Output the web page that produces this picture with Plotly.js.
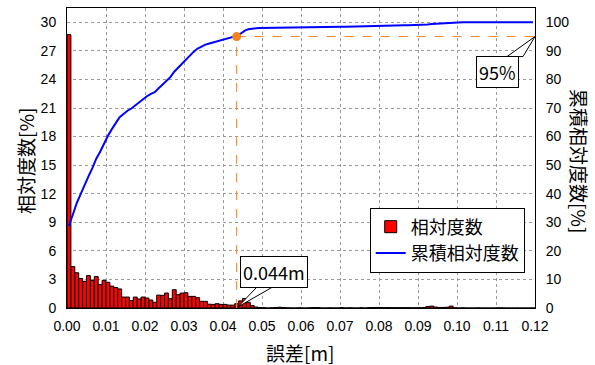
<!DOCTYPE html>
<html>
<head>
<meta charset="utf-8">
<script src="https://cdn.plot.ly/plotly-3.0.1.min.js"></script>
<style>html,body{margin:0;padding:0;background:#fff;}#chart{width:595px;height:365px;}</style>
</head>
<body>
<div id="chart"></div>
<script>
// ---- data ----
const binWidth = 0.001; // [m]
const relFreq = [
  28.7, 4.35, 3.7, 3.1, 2.8, 3.4, 2.9, 3.3, 2.45, 2.9,
  2.7, 2.3, 2.15, 2.0, 1.15, 1.15, 0.77, 1.15, 0.95, 1.15,
  1.05, 0.84, 0.6, 1.35, 1.33, 1.57, 0.98, 1.92, 1.4, 1.57,
  1.6, 1.22, 1.22, 1.08, 0.7, 0.7, 0.4, 0.38, 0.45, 0.38,
  0.38, 0.31, 0.3, 0.45, 0.75, 1.0, 0.6, 0.25, 0.1, 0.05,
  0.03, 0, 0.02, 0.05, 0.08, 0.04, 0.02, 0, 0, 0.02,
  0, 0, 0.03, 0.05, 0.04, 0, 0, 0.02, 0, 0,
  0.05, 0, 0.02, 0, 0, 0.03, 0, 0.04, 0.05, 0.06,
  0.05, 0.04, 0.05, 0.03, 0.04, 0.03, 0.04, 0.03, 0.02, 0.02,
  0.03, 0.05, 0.15, 0.2, 0.1, 0.06, 0.06, 0.08, 0.2, 0.02,
  0, 0.02, 0, 0, 0, 0.01, 0, 0, 0, 0,
  0.01, 0.01, 0, 0, 0, 0, 0, 0, 0, 0
];
const markX = 0.0435;      // error at 95 %
const markY = 95;          // cumulative %
const markXLabel = '0.044m';
const markYLabel = '95%';
const xTickVals = [0,0.01,0.02,0.03,0.04,0.05,0.06,0.07,0.08,0.09,0.10,0.11,0.12];
const xTickText = ['0.00','0.01','0.02','0.03','0.04','0.05','0.06','0.07','0.08','0.09','0.10','0.11','0.12'];
const leftTicks = [0,3,6,9,12,15,18,21,24,27,30];
const rightTicks = [0,10,20,30,40,50,60,70,80,90,100];
const seriesNames = ['相対度数','累積相対度数'];
const xTitle = '誤差[m]';
const yTitle = '相対度数[%]';
const y2Title = '累積相対度数[%]';

// ---- derived ----
const binCenters = relFreq.map((_, i) => (i + 0.5) * binWidth);
let acc = 0;
const cumFreq = relFreq.map(v => (acc += v, acc));

const FONT = '"Noto Sans CJK JP", "Liberation Sans", sans-serif';
const TICKFONT = '"Liberation Sans", Arial, sans-serif';
const orange = '#f5821f';

const traces = [
  {
    type: 'bar', name: seriesNames[0], x: binCenters, y: relFreq,
    width: binWidth,
    marker: {color: '#ff0000', line: {color: '#000000', width: 1}},
    yaxis: 'y', hoverinfo: 'skip'
  },
  {
    type: 'scatter', mode: 'lines', name: seriesNames[1], x: binCenters, y: cumFreq,
    line: {color: '#0000ff', width: 2}, yaxis: 'y2', hoverinfo: 'skip'
  },
  {
    type: 'scatter', mode: 'markers', x: [markX], y: [markY], yaxis: 'y2',
    marker: {color: orange, size: 9}, showlegend: false, hoverinfo: 'skip'
  }
];

const gridStyle = {gridcolor: '#9a9a9a', griddash: 'dot', gridwidth: 1};

const layout = {
  width: 595, height: 365,
  margin: {l: 67, r: 60, t: 8, b: 57, pad: 0},
  paper_bgcolor: '#ffffff', plot_bgcolor: '#ffffff',
  font: {family: FONT, size: 14, color: '#000'},
  bargap: 0,
  showlegend: true,
  legend: {
    x: 0.978, xanchor: 'right', y: 0.335, yanchor: 'top',
    bgcolor: '#ffffff', bordercolor: '#000000', borderwidth: 1,
    font: {family: FONT, size: 18, color: '#000'},
    tracegroupgap: 0
  },
  xaxis: Object.assign({
    range: [0, 0.12], tickvals: xTickVals, ticktext: xTickText,
    showline: true, linecolor: '#000', linewidth: 1, mirror: true,
    ticks: '', zeroline: false, tickfont: {family: TICKFONT, size: 14},
    ticklabelstandoff: 5
  }, gridStyle),
  yaxis: Object.assign({
    range: [0, 31.5], tickvals: leftTicks,
    showline: true, linecolor: '#000', linewidth: 1, mirror: true,
    ticks: '', zeroline: false, tickfont: {family: TICKFONT, size: 14}, ticklabelstandoff: 7
  }, gridStyle),
  yaxis2: {
    range: [0, 105], tickvals: rightTicks, overlaying: 'y', side: 'right',
    showgrid: false, showline: true, linecolor: '#000', linewidth: 1,
    ticks: '', zeroline: false, tickfont: {family: TICKFONT, size: 14}, ticklabelstandoff: 7
  },
  shapes: [
    {type: 'line', xref: 'x', yref: 'y2', x0: markX, x1: markX, y0: 0, y1: markY,
     line: {color: orange, width: 1, dash: 'dash'}, layer: 'above'},
    {type: 'line', xref: 'x', yref: 'y2', x0: markX, x1: 0.12, y0: markY, y1: markY,
     line: {color: orange, width: 1, dash: 'dash'}, layer: 'above'},
    // callout tails (pixel offsets from the marked points)
    {type: 'path', xref: 'x', yref: 'y', xsizemode: 'pixel', ysizemode: 'pixel',
     xanchor: markX + 0.0003, yanchor: 0, path: 'M0,1 L22,24 L40,24 Z',
     fillcolor: '#ffffff', line: {color: '#000', width: 1}, layer: 'above'},
    {type: 'path', xref: 'x', yref: 'y2', xsizemode: 'pixel', ysizemode: 'pixel',
     xanchor: 0.12, yanchor: markY, path: 'M0,0 L-28,-20 L-12,-20 Z',
     fillcolor: '#ffffff', line: {color: '#000', width: 1}, layer: 'above'}
  ],
  annotations: [
    {text: markXLabel, xref: 'x', yref: 'y', x: markX + 0.0003, y: 0,
     showarrow: true, arrowcolor: 'rgba(0,0,0,0)', ax: 36, ay: -36,
     bgcolor: '#fff', bordercolor: '#000', borderwidth: 1, borderpad: 2,
     font: {family: FONT, size: 18, color: '#000'}},
    {text: markYLabel, xref: 'x', yref: 'y2', x: 0.12, y: markY,
     showarrow: true, arrowcolor: 'rgba(0,0,0,0)', ax: -38, ay: 35,
     bgcolor: '#fff', bordercolor: '#000', borderwidth: 1, borderpad: 2,
     font: {family: FONT, size: 18, color: '#000'}},
    {text: xTitle, xref: 'paper', yref: 'paper', x: 0.498, y: -0.148,
     xanchor: 'center', yanchor: 'middle', showarrow: false,
     font: {family: FONT, size: 19}},
    {text: yTitle, xref: 'paper', yref: 'paper', x: -0.09, y: 0.49,
     xanchor: 'center', yanchor: 'middle', showarrow: false, textangle: -90,
     font: {family: FONT, size: 19}},
    {text: y2Title, xref: 'paper', yref: 'paper', x: 1.096, y: 0.49,
     xanchor: 'center', yanchor: 'middle', showarrow: false, textangle: 90,
     font: {family: FONT, size: 19}}
  ]
};

Plotly.newPlot('chart', traces, layout, {displayModeBar: false, staticPlot: true});
</script>
</body>
</html>
